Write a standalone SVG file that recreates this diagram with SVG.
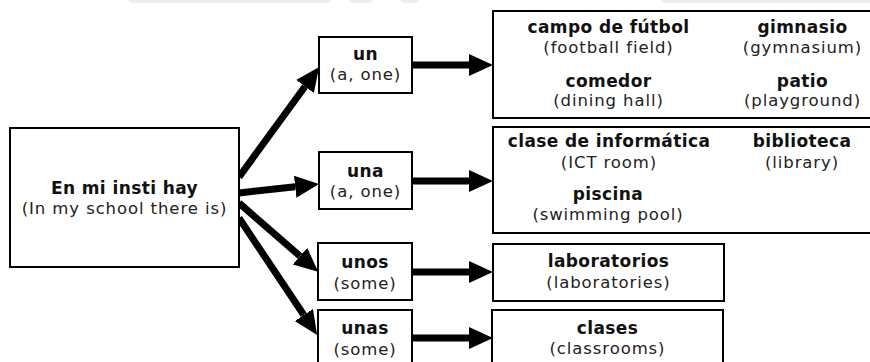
<svg xmlns="http://www.w3.org/2000/svg" width="870" height="362" viewBox="0 0 870 362">
<style>
.box{fill:#fff;stroke:#000;stroke-width:2}
.b{font-family:"DejaVu Sans",sans-serif;font-weight:bold;font-size:17px;letter-spacing:0.4px;fill:#111;text-anchor:middle}
.r{font-family:"DejaVu Sans",sans-serif;font-size:16.5px;letter-spacing:0.9px;fill:#222;text-anchor:middle}
.ln{stroke:#000;stroke-width:7;fill:none;marker-end:url(#ah)}
.wm{fill:#eeeeee}
</style>
<defs>
<marker id="ah" markerUnits="userSpaceOnUse" markerWidth="26" markerHeight="24" refX="0" refY="11" orient="auto">
<path d="M0,0 L24,11 L0,22 z" fill="#000"/>
</marker>
</defs>
<rect width="870" height="362" fill="#fff"/>
<g id="watermark">
<rect class="wm" x="128" y="-8" width="204" height="11" rx="5"/>
<rect class="wm" x="348" y="-8" width="25" height="11" rx="5"/>
<rect class="wm" x="400" y="-8" width="20" height="11" rx="5"/>
<rect class="wm" x="660" y="-8" width="220" height="11" rx="5"/>
</g>
<g id="connectors">
<line class="ln" x1="239" y1="177" x2="305" y2="86.5"/>
<line class="ln" x1="239" y1="193" x2="295.2" y2="186.7"/>
<line class="ln" x1="239" y1="203" x2="300" y2="256.1"/>
<line class="ln" x1="239" y1="218" x2="303.8" y2="315"/>
<line class="ln" x1="413" y1="65" x2="469" y2="65"/>
<line class="ln" x1="413" y1="181" x2="469" y2="181"/>
<line class="ln" x1="413" y1="272" x2="469" y2="272"/>
<line class="ln" x1="413" y1="338" x2="469" y2="338"/>
</g>
<g id="main">
<rect class="box" x="10" y="128" width="229" height="139"/>
<text class="b" x="124.5" y="194">En mi insti hay</text>
<text class="r" x="124.5" y="214">(In my school there is)</text>
</g>
<g id="un">
<rect class="box" x="319" y="37" width="93" height="56"/>
<text class="b" x="365.5" y="60">un</text>
<text class="r" x="365.5" y="80">(a, one)</text>
</g>
<g id="una">
<rect class="box" x="319" y="152" width="93" height="57"/>
<text class="b" x="365.5" y="177">una</text>
<text class="r" x="365.5" y="197">(a, one)</text>
</g>
<g id="unos">
<rect class="box" x="318" y="243" width="94" height="57"/>
<text class="b" x="365" y="268">unos</text>
<text class="r" x="365" y="289">(some)</text>
</g>
<g id="unas">
<rect class="box" x="318" y="310" width="94" height="60"/>
<text class="b" x="365" y="334">unas</text>
<text class="r" x="365" y="355">(some)</text>
</g>
<g id="places-un">
<rect class="box" x="493" y="11" width="390" height="107"/>
<text class="b" x="608.5" y="33">campo de fútbol</text>
<text class="r" x="608.5" y="53">(football field)</text>
<text class="b" x="802.5" y="33">gimnasio</text>
<text class="r" x="802.5" y="53">(gymnasium)</text>
<text class="b" x="608.5" y="87">comedor</text>
<text class="r" x="608.5" y="106">(dining hall)</text>
<text class="b" x="802.5" y="87">patio</text>
<text class="r" x="802.5" y="106">(playground)</text>
</g>
<g id="places-una">
<rect class="box" x="493" y="127" width="390" height="106"/>
<text class="b" x="609" y="147">clase de informática</text>
<text class="r" x="609" y="168">(ICT room)</text>
<text class="b" x="802" y="147">biblioteca</text>
<text class="r" x="802" y="168">(library)</text>
<text class="b" x="608" y="200">piscina</text>
<text class="r" x="608" y="220">(swimming pool)</text>
</g>
<g id="places-unos">
<rect class="box" x="493" y="244" width="231" height="57"/>
<text class="b" x="608.5" y="267">laboratorios</text>
<text class="r" x="608.5" y="288">(laboratories)</text>
</g>
<g id="places-unas">
<rect class="box" x="492" y="310" width="231" height="60"/>
<text class="b" x="607.5" y="334">clases</text>
<text class="r" x="607.5" y="354">(classrooms)</text>
</g>
</svg>
